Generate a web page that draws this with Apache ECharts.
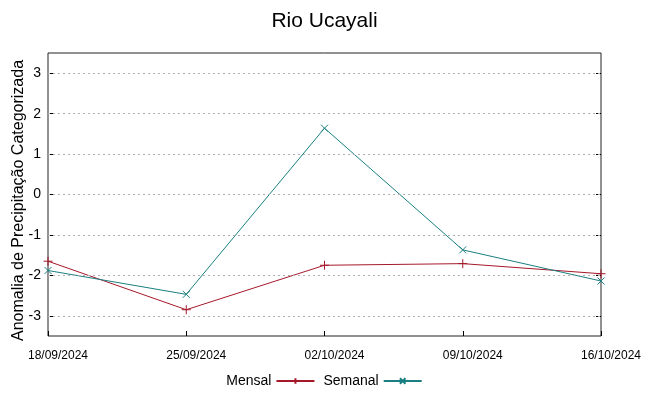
<!DOCTYPE html>
<html><head><meta charset="utf-8">
<script src="https://cdn.jsdelivr.net/npm/echarts@6/dist/echarts.min.js"></script>
<style>html,body{margin:0;padding:0;background:#fff}#c{width:649px;height:396px}</style>
</head><body><div id="c"></div>
<script>
const categories = ['18/09/2024','25/09/2024','02/10/2024','09/10/2024','16/10/2024'];
const mensal = [-1.65, -2.85, -1.75, -1.71, -1.96];
const semanal = [-1.88, -2.47, 1.64, -1.37, -2.14];
const yTicks = [-3,-2,-1,0,1,2,3];

const plusPath = 'path://M5 0L5 10M0 5L10 5';
const crossPath = 'path://M0 0L10 10M10 0L0 10';
const FONT = '"Liberation Sans", Arial, sans-serif';

const chart = echarts.init(document.getElementById('c'), null, {renderer:'canvas'});
chart.setOption({
  animation:false,
  textStyle:{fontFamily:FONT},
  title:{text:'Rio Ucayali', left:'center', top:6, textStyle:{fontFamily:FONT, fontSize:21, fontWeight:'normal', color:'#000'}},
  legend:{
    bottom:3, left:'center', align:'right', itemGap:8, itemWidth:38, itemHeight:7,
    textStyle:{fontFamily:FONT, fontSize:14, color:'#000'},
    data:['Mensal','Semanal']
  },
  grid:{left:48, right:48, top:53, bottom:60, show:true, borderColor:'#222', borderWidth:1, containLabel:false, outerBoundsMode:'none'},
  xAxis:[{
    type:'category', data:categories, boundaryGap:false,
    axisLine:{show:false, onZero:false},
    axisTick:{show:true, inside:true, length:5, lineStyle:{color:'#000'}},
    splitLine:{show:false},
    axisLabel:{fontFamily:FONT, fontSize:12, color:'#000', margin:14, padding:[0,0,0,20], interval:0}
  }],
  yAxis:[{
    type:'value', min:-3.5, max:3.5,
    axisLine:{show:false},
    axisTick:{show:true, inside:true, length:5, lineStyle:{color:'#000'}, customValues:yTicks},
    splitLine:{show:false},
    axisLabel:{fontFamily:FONT, fontSize:14, color:'#000', margin:7, customValues:yTicks},
    name:'Anomalia de Precipitação Categorizada', nameLocation:'middle', nameGap:21, nameMoveOverlap:false,
    nameTextStyle:{fontFamily:FONT, fontSize:16, color:'#000', padding:[0,12,0,0]}
  },{
    type:'value', min:-3.5, max:3.5, position:'right',
    axisLine:{show:false},
    axisTick:{show:true, inside:true, length:5, lineStyle:{color:'#000'}, customValues:yTicks},
    splitLine:{show:false}, axisLabel:{show:false, customValues:yTicks}
  }],
  series:[
    {name:'Mensal', type:'line', data:mensal, symbol:plusPath, symbolSize:9,
     color:'#a5182a', lineStyle:{width:1, color:'#a5182a'},
     itemStyle:{color:'#a5182a', borderColor:'#a5182a', borderWidth:1}},
    {name:'Semanal', type:'line', data:semanal, symbol:crossPath, symbolSize:7,
     color:'#1a7f80', lineStyle:{width:1, color:'#1a7f80'},
     itemStyle:{color:'#1a7f80', borderColor:'#1a7f80', borderWidth:1}},
    {type:'line', yAxisIndex:1, data:[], silent:true,
     markLine:{silent:true, symbol:'none', label:{show:false},
       lineStyle:{color:'#b0b0b0', type:[2,3], width:1},
       data:yTicks.map(v=>({yAxis:v}))}}
  ]
});
</script></body></html>
